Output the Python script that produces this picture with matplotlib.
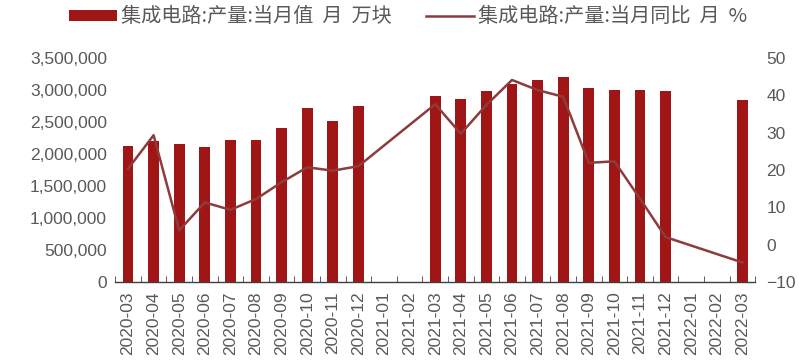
import numpy as np
import matplotlib
matplotlib.use("Agg")
import matplotlib.pyplot as plt

plt.rcParams['font.family'] = ['Liberation Sans', 'Noto Sans CJK SC', 'DejaVu Sans']

months = ["2020-03", "2020-04", "2020-05", "2020-06", "2020-07", "2020-08", "2020-09",
          "2020-10", "2020-11", "2020-12", "2021-01", "2021-02", "2021-03", "2021-04",
          "2021-05", "2021-06", "2021-07", "2021-08", "2021-09", "2021-10", "2021-11",
          "2021-12", "2022-01", "2022-02", "2022-03"]
output = [2120000, 2200000, 2156000, 2110000, 2220000, 2220000, 2410000,
          2720000, 2520000, 2750000, np.nan, np.nan, 2910000, 2860000,
          2980000, 3090000, 3160000, 3210000, 3030000, 3000000, 3000000,
          2990000, np.nan, np.nan, 2840000]
yoy = [20.3, 29.3, 3.8, 11.3, 9.3, 12.2, 16.7,
       20.7, 19.8, 21.0, np.nan, np.nan, 37.6, 29.7,
       37.4, 44.1, 41.4, 39.6, 21.9, 22.3, 12.3,
       2.0, np.nan, np.nan, -4.8]

bar_label = "集成电路:产量:当月值  月  万块"
line_label = "集成电路:产量:当月同比  月  %"

bar_color = "#A01616"
line_color = "#8E3B3B"
tick_color = "#595959"

fig = plt.figure(figsize=(8, 3.6), dpi=100)
ax = fig.add_axes([0.144, 0.217, 0.8, 0.622])
ax2 = ax.twinx()

x = np.arange(len(months))
bars = ax.bar(x, output, width=0.42, color=bar_color, label=bar_label, zorder=2)

yoy_arr = np.array(yoy, dtype=float)
mask = ~np.isnan(yoy_arr)
ln, = ax2.plot(x[mask], yoy_arr[mask], color=line_color, lw=1.8, label=line_label, zorder=3)

ax.set_xlim(-0.5, len(months) - 0.5)
ax.set_ylim(0, 3500000)
ax.set_yticks(np.arange(0, 3500001, 500000))
ax.set_yticklabels([f"{v:,.0f}" for v in np.arange(0, 3500001, 500000)])
ax2.set_ylim(-10, 50)
ax2.set_yticks(np.arange(-10, 51, 10))

ax.set_xticks(x)
ax.set_xticklabels(months, rotation=90)
ax.set_xticks(np.arange(-0.5, len(months), 1), minor=True)

for a in (ax, ax2):
    for s in ("top", "left", "right"):
        a.spines[s].set_visible(False)
ax2.spines["bottom"].set_visible(False)
ax.spines["bottom"].set_color("#404040")
ax.spines["bottom"].set_linewidth(1.0)

ax.tick_params(axis='x', which='major', length=0, labelsize=12.5, colors=tick_color, pad=7)
ax.tick_params(axis='x', which='minor', length=4, direction='in', color="#404040")
ax.tick_params(axis='y', length=0, labelsize=12.5, colors=tick_color, pad=6)
ax2.tick_params(axis='y', length=0, labelsize=12.5, colors=tick_color, pad=8)

fig.legend([bars, ln], [bar_label, line_label], loc='center',
           bbox_to_anchor=(0.51, 1 - 17 / 360), ncol=2, frameon=False,
           prop={'family': ['Noto Sans CJK SC', 'Liberation Sans'], 'size': 14.5},
           handlelength=2.4, handleheight=0.5, handletextpad=0.2, columnspacing=1.7,
           labelcolor=tick_color, borderpad=0, borderaxespad=0)

fig.savefig("out.png", dpi=100)
